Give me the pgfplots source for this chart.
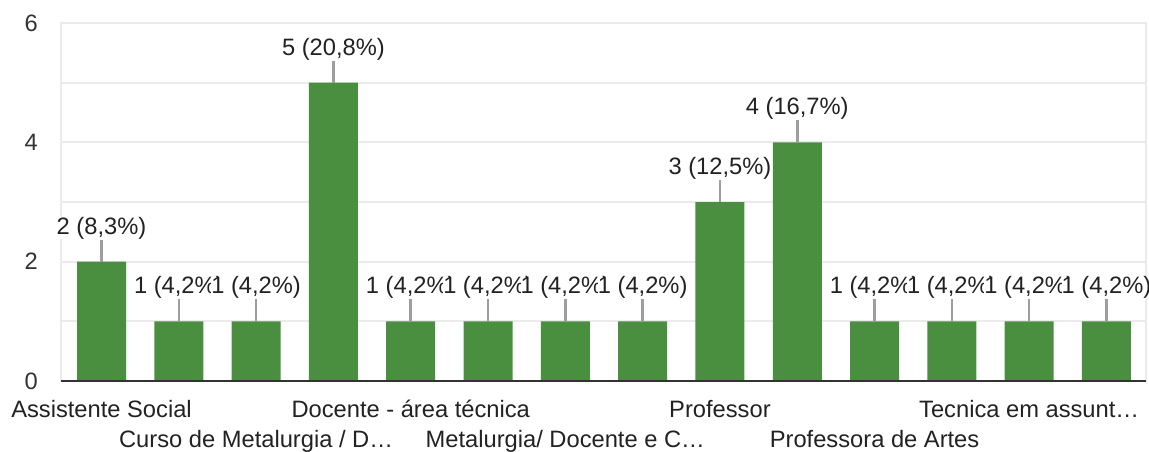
\documentclass[border=0pt]{standalone}
\usepackage{pgfplots}
\pgfplotsset{compat=1.18}
\usepackage{fontspec}
\setmainfont{Liberation Sans}
\definecolor{bargreen}{HTML}{4A8E40}
\definecolor{gridgray}{HTML}{EBEBEB}
\definecolor{tickline}{HTML}{9E9E9E}
\definecolor{txt}{HTML}{222222}
\definecolor{ytxt}{HTML}{333333}
\definecolor{base}{HTML}{333333}
\begin{document}
\fontsize{23.7}{28}\selectfont
\begin{tikzpicture}
\path[use as bounding box] (-61pt,-70pt) rectangle (1088pt,381pt);
\begin{axis}[
  at={(0pt,0pt)}, anchor=south west,
  scale only axis, width=1085pt, height=358pt,
  xmin=-0.524, xmax=13.511, ymin=0, ymax=6,
  ytick={0,2,4,6}, minor ytick={1,3,5},
  ymajorgrids, yminorgrids,
  major grid style={draw=gridgray, line width=2pt},
  minor grid style={draw=gridgray, line width=2pt},
  axis line style={draw=gridgray, line width=2pt},
  major tick length=0pt, minor tick length=0pt,
  /pgf/number format/assume math mode=true,
  yticklabel style={font=\fontsize{23.7}{28}\selectfont, text=ytxt, inner sep=0pt, xshift=-23pt},
  xtick={0,4,8,12},
  xticklabels={Assistente Social, Docente - área técnica, Professor, Tecnica em assunt…},
  extra x ticks={2,6,10},
  extra x tick labels={Curso de Metalurgia / D…, Metalurgia/ Docente e C…, Professora de Artes},
  xticklabel style={font=\fontsize{23.7}{28}\selectfont, text=txt, inner sep=0pt, anchor=base, yshift=-36pt},
  extra x tick style={xticklabel style={yshift=-30.5pt}, grid=none},
  point meta=explicit symbolic,
  nodes near coords,
  every node near coord/.append style={font=\fontsize{23.7}{28}\selectfont, text=txt, anchor=base, yshift=27.5pt, inner sep=0pt, fill=white},
]
\addplot[ybar, bar width=49pt, fill=bargreen, draw=none,
  error bars/.cd, y dir=plus, y explicit, error mark=none,
  error bar style={draw=tickline, line width=2.5pt}]
coordinates {
(0,2) +- (0,0.37) [2 (8,3\%)]
(1,1) +- (0,0.37) [1 (4,2\%)]
(2,1) +- (0,0.37) [1 (4,2\%)]
(3,5) +- (0,0.37) [5 (20,8\%)]
(4,1) +- (0,0.37) [1 (4,2\%)]
(5,1) +- (0,0.37) [1 (4,2\%)]
(6,1) +- (0,0.37) [1 (4,2\%)]
(7,1) +- (0,0.37) [1 (4,2\%)]
(8,3) +- (0,0.37) [3 (12,5\%)]
(9,4) +- (0,0.37) [4 (16,7\%)]
(10,1) +- (0,0.37) [1 (4,2\%)]
(11,1) +- (0,0.37) [1 (4,2\%)]
(12,1) +- (0,0.37) [1 (4,2\%)]
(13,1) +- (0,0.37) [1 (4,2\%)]
};
\draw[base, line width=3pt] (rel axis cs:0,0) -- (rel axis cs:1,0);
\end{axis}
\end{tikzpicture}
\end{document}
